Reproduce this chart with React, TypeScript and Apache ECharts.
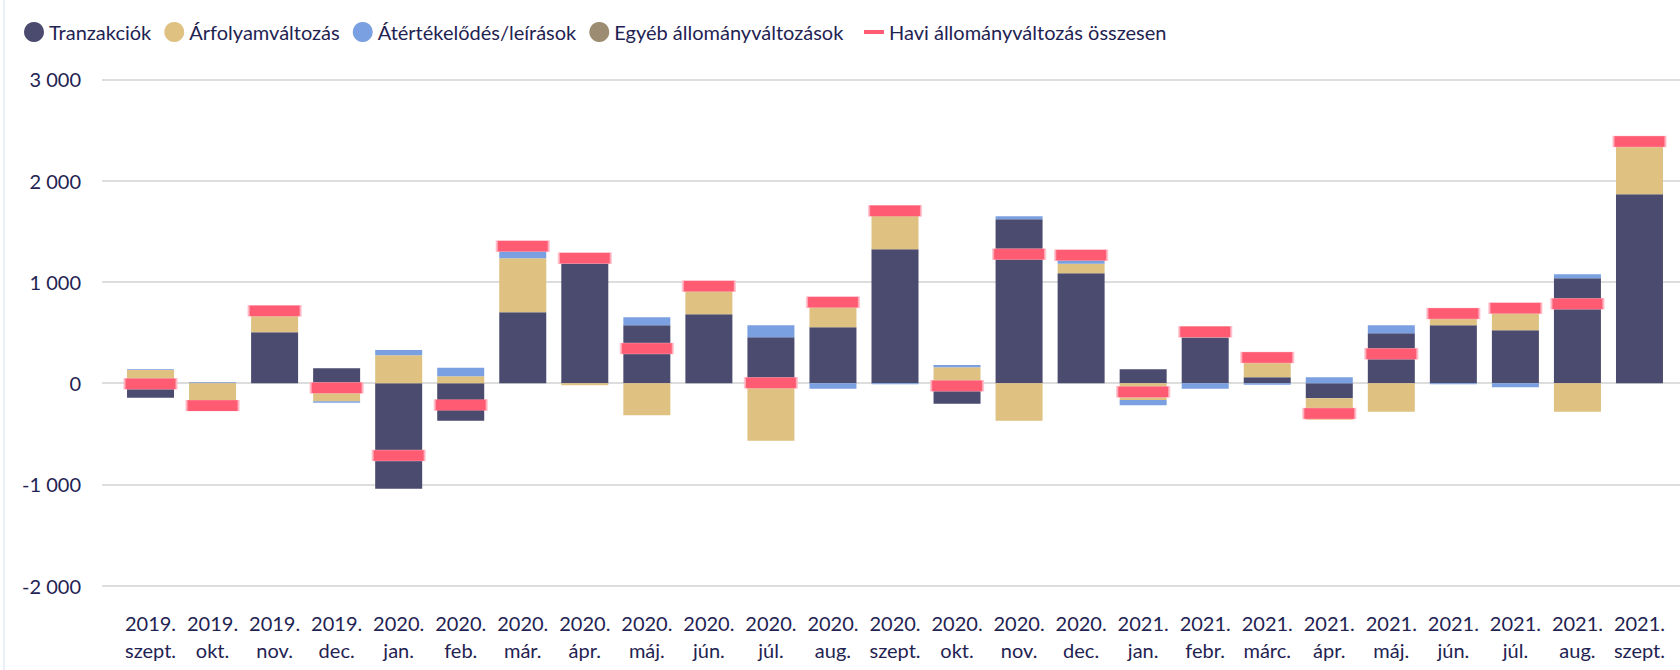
import React, { useEffect, useRef } from "react";
import * as echarts from "echarts";

const categories = [
  "2019.\nszept.", "2019.\nokt.", "2019.\nnov.", "2019.\ndec.",
  "2020.\njan.", "2020.\nfeb.", "2020.\nmár.", "2020.\nápr.", "2020.\nmáj.", "2020.\njún.",
  "2020.\njúl.", "2020.\naug.", "2020.\nszept.", "2020.\nokt.", "2020.\nnov.", "2020.\ndec.",
  "2021.\njan.", "2021.\nfebr.", "2021.\nmárc.", "2021.\nápr.", "2021.\nmáj.", "2021.\njún.",
  "2021.\njúl.", "2021.\naug.", "2021.\nszept.",
];

const tranzakciok = [-145, 3, 503, 148, -1043, -372, 701, 1183, 572, 681, 454, 553, 1323, -204, 1619, 1086, 136, 454, 59, -148, 493, 572, 523, 1036, 1865];
const arfolyamvaltozas = [130, -228, 210, -178, 276, 69, 533, -20, -316, 275, -569, 295, 390, 158, -372, 92, -166, 109, 210, -214, -283, 125, 255, -283, 520];
const atertekelodes = [8, 5, 0, -16, 50, 82, 116, 65, 79, 0, 118, -56, -10, 20, 29, 80, -52, -56, -16, 59, 79, -10, -40, 40, 0];
const egyeb = [0, 0, 0, 0, 0, 0, 0, 0, 0, 0, 0, 0, 0, 0, 0, 0, 0, 0, 0, 0, 0, 0, 0, 0, 0];
const haviOsszesen = [-7, -222, 714, -46, -714, -217, 1352, 1234, 342, 957, 3, 799, 1701, -26, 1273, 1263, -86, 507, 253, -299, 290, 688, 740, 783, 2385];

const yMin = -2000;
const yMax = 3000;
const yInterval = 1000;

const seriesNames = [
  "Tranzakciók",
  "Árfolyamváltozás",
  "Átértékelődés/leírások",
  "Egyéb állományváltozások",
  "Havi állományváltozás összesen",
];
const colors = ["#4a4b6f", "#dfc181", "#7aa0e1", "#9b8c72", "#ff5c73"];

const FONT = "Lato, 'Open Sans', sans-serif";
const TEXT = "#1f2352";

function fmt(v: number): string {
  const s = Math.abs(v).toString().replace(/\B(?=(\d{3})+(?!\d))/g, " ");
  return (v < 0 ? "-" : "") + s;
}

export default function App() {
  const ref = useRef<HTMLDivElement>(null);
  useEffect(() => {
    if (!ref.current) return;
    const chart = echarts.init(ref.current, undefined, { renderer: "svg" });
    const top = 79.3;
    const bottom = 670 - 585.7;
    const barData = [tranzakciok, arfolyamvaltozas, atertekelodes, egyeb];
    chart.setOption({
      animation: false,
      backgroundColor: "#ffffff",
      textStyle: { fontFamily: FONT },
      legend: [
        {
          data: seriesNames.slice(0, 4).map((n) => ({ name: n, icon: "circle" })),
          left: 19,
          top: 17,
          itemWidth: 20,
          itemHeight: 20,
          itemGap: 13,
          textStyle: { fontFamily: FONT, fontSize: 20, color: TEXT },
        },
        {
          data: [{ name: seriesNames[4], icon: "rect", itemStyle: { borderWidth: 0 } }],
          left: 859,
          top: 17,
          itemWidth: 20,
          itemHeight: 4,
          textStyle: { fontFamily: FONT, fontSize: 20, color: TEXT },
        },
      ],
      grid: [
        { left: 102, right: 0, top, bottom },
        { left: 119.5, right: 9.5, top, bottom },
      ],
      xAxis: [
        { type: "value", gridIndex: 0, show: false, min: 0, max: 1 },
        {
          type: "category",
          gridIndex: 1,
          data: categories,
          axisLine: { show: false },
          axisTick: { show: false },
          axisLabel: {
            interval: 0,
            margin: 24,
            fontFamily: FONT,
            fontSize: 20,
            lineHeight: 27,
            color: TEXT,
          },
        },
      ],
      yAxis: [
        {
          type: "value",
          gridIndex: 0,
          min: yMin,
          max: yMax,
          interval: yInterval,
          axisLine: { show: false },
          axisTick: { show: false },
          splitLine: { lineStyle: { color: "#d2d2d2", width: 1.6 } },
          axisLabel: {
            margin: 21,
            fontFamily: FONT,
            fontSize: 20,
            color: TEXT,
            formatter: (v: number) => fmt(v),
          },
        },
        {
          type: "value",
          gridIndex: 1,
          min: yMin,
          max: yMax,
          interval: yInterval,
          show: false,
          splitLine: { show: false },
        },
      ],
      series: [
        ...barData.map((d, i) => ({
          name: seriesNames[i],
          type: "bar",
          xAxisIndex: 1,
          yAxisIndex: 1,
          stack: "total",
          barWidth: 47,
          data: d,
          itemStyle: { color: colors[i] },
          z: 2,
        })),
        {
          name: seriesNames[4],
          type: "scatter",
          xAxisIndex: 1,
          yAxisIndex: 1,
          symbol: "rect",
          symbolSize: [52, 11],
          data: haviOsszesen,
          itemStyle: {
            color: colors[4],
            borderColor: "rgba(255,185,198,0.8)",
            borderWidth: 1,
            opacity: 1,
          },
          z: 5,
        },
      ],
      graphic: [
        {
          type: "rect",
          left: 3,
          top: 0,
          shape: { width: 2, height: 670 },
          style: { fill: "#eceef8" },
          silent: true,
        },
      ],
    });
    return () => chart.dispose();
  }, []);
  return (
    <div
      ref={ref}
      style={{ position: "fixed", left: 0, top: 0, width: 1680, height: 670 }}
    />
  );
}
